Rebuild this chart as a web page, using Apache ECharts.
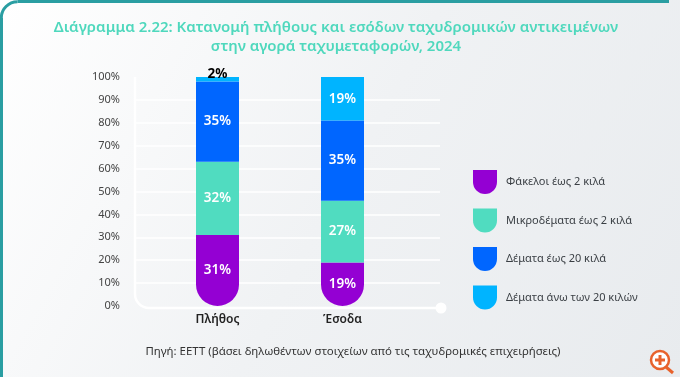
<!DOCTYPE html>
<html><head><meta charset="utf-8">
<style>html,body{margin:0;padding:0;background:#fff}#c{width:680px;height:377px}</style>
<script src="https://cdn.jsdelivr.net/npm/echarts@6/dist/echarts.min.js"></script>
</head><body><div id="c"></div>
<script>
const categories = ['Πλήθος', 'Έσοδα'];
const fakeloi = [31, 19];
const mikrodemata = [32, 27];
const demata20 = [35, 35];
const demataAno = [2, 19];
const names = ['Φάκελοι έως 2 κιλά','Μικροδέματα έως 2 κιλά','Δέματα έως 20 κιλά','Δέματα άνω των 20 κιλών'];
const colors = ['#9400d3','#50dcc0','#0066ff','#00b4ff'];
const titleText = 'Διάγραμμα 2.22: Κατανομή πλήθους και εσόδων ταχυδρομικών αντικειμένων\nστην αγορά ταχυμεταφορών, 2024';
const sourceText = 'Πηγή: ΕΕΤΤ (βάσει δηλωθέντων στοιχείων από τις ταχυδρομικές επιχειρήσεις)';
const font = '"Noto Sans", sans-serif';

const chart = echarts.init(document.getElementById('c'), null, {renderer:'canvas'});
const base = {type:'bar', stack:'s', xAxisIndex:1, yAxisIndex:1, barWidth:43, z:3};
const lab = {show:true, color:'#fff', fontFamily:font, fontWeight:600, fontSize:13.5, formatter:'{c}%', position:'inside'};
const axisStroke = {stroke:'#fff',lineWidth:2.5,fill:null};
const cardStroke = {stroke:'#2a9ea2',lineWidth:3,fill:null};
const iconStroke = {stroke:'#e8622c',lineWidth:3,fill:null};
chart.setOption({
  animation:false,
  backgroundColor:{type:'linear',x:0,y:0,x2:1,y2:1,colorStops:[{offset:0,color:'#ffffff'},{offset:0.5,color:'#f0f2f4'},{offset:1,color:'#e8ebee'}]},
  title:{text:titleText,left:331,top:13,textAlign:'center',
    textStyle:{color:'#4fd8bd',fontFamily:font,fontWeight:600,fontSize:15,lineHeight:19}},
  legend:{orient:'vertical',left:468,top:165,itemWidth:24,itemHeight:24,itemGap:14.5,
    icon:'path://M0 0H24V12A12 12 0 0 1 0 12Z',data:names,
    textStyle:{color:'#3a3f44',fontFamily:font,fontSize:11,padding:[0,0,0,4]}},
  grid:[{left:136,right:240,top:77,height:229},{left:155,width:250,top:77,height:229}],
  xAxis:[
    {gridIndex:0,type:'category',data:categories,show:false},
    {gridIndex:1,type:'category',data:categories,axisLine:{show:false},axisTick:{show:false},
      axisLabel:{color:'#222',fontFamily:font,fontWeight:600,fontSize:12,margin:8}}
  ],
  yAxis:[
    {gridIndex:0,type:'value',min:0,max:100,interval:10,
      axisLine:{show:false},axisTick:{show:false},
      axisLabel:{color:'#444',fontFamily:font,fontSize:11,margin:16,formatter:'{value}%'},
      splitLine:{show:true,showMinLine:false,showMaxLine:false,lineStyle:{color:'#ffffff',width:1.5}}},
    {gridIndex:1,type:'value',min:0,max:100,interval:10,show:false,splitLine:{show:false}}
  ],
  series:[
    {...base,name:names[0],data:fakeloi,itemStyle:{color:colors[0],borderRadius:[0,0,21.5,21.5]},label:lab},
    {...base,name:names[1],data:mikrodemata,itemStyle:{color:colors[1]},label:lab},
    {...base,name:names[2],data:demata20,itemStyle:{color:colors[2]},label:lab},
    {...base,name:names[3],itemStyle:{color:colors[3]},label:lab,
      data:demataAno.map(v=>v<5?{value:v,label:{position:'top',offset:[0,9],color:'#000',fontWeight:700,fontSize:13.5}}:v)}
  ],
  graphic:[
    {type:'line',z:1,silent:true,shape:{x1:135,y1:77,x2:135,y2:294},style:axisStroke},
    {type:'arc',z:1,silent:true,shape:{cx:149,cy:294,r:14,startAngle:Math.PI/2,endAngle:Math.PI},style:axisStroke},
    {type:'line',z:1,silent:true,shape:{x1:149,y1:308,x2:441,y2:308},style:axisStroke},
    {type:'circle',z:1,silent:true,shape:{cx:441,cy:308,r:5.5},style:{fill:'#fff'}},
    {type:'line',z:5,silent:true,shape:{x1:1.5,y1:377,x2:1.5,y2:18},style:cardStroke},
    {type:'arc',z:5,silent:true,shape:{cx:17.5,cy:18,r:16.2,startAngle:Math.PI,endAngle:Math.PI*1.5},style:cardStroke},
    {type:'line',z:5,silent:true,shape:{x1:17.5,y1:1.5,x2:669,y2:1.5},style:cardStroke},
    {type:'text',z:5,silent:true,style:{text:sourceText,x:353,y:352,align:'center',verticalAlign:'middle',
      fill:'#333',fontFamily:font,fontSize:11.45}},
    {type:'circle',z:5,silent:true,shape:{cx:660,cy:360,r:9},style:{fill:'#fff',stroke:'#e8622c',lineWidth:2.5}},
    {type:'line',z:5,silent:true,shape:{x1:666,y1:367,x2:673,y2:373},style:iconStroke},
    {type:'line',z:5,silent:true,shape:{x1:655,y1:360,x2:665,y2:360},style:iconStroke},
    {type:'line',z:5,silent:true,shape:{x1:660,y1:355,x2:660,y2:365},style:iconStroke}
  ]
});
</script></body></html>
